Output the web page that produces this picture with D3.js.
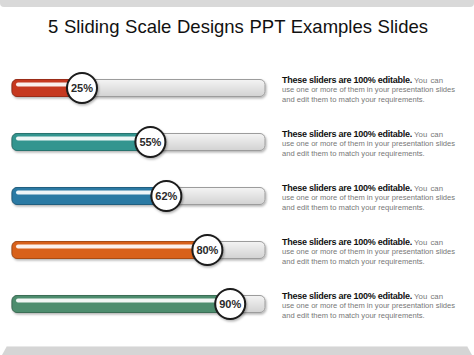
<!DOCTYPE html>
<html>
<head>
<meta charset="utf-8">
<script src="https://cdn.jsdelivr.net/npm/d3@7"></script>
<style>
  body { margin: 0; background: #fff; }
  svg { display: block; font-family: "Liberation Sans", Arial, sans-serif; }
</style>
</head>
<body>
<div id="chart"></div>
<script>
// slider values, one per row
const values = [25, 55, 62, 80, 90];
const colors = ["#c6381f", "#33958f", "#2b7aa4", "#d8611b", "#4d8d6e"];
const title = "5 Sliding Scale Designs PPT Examples Slides";
const headline = "These sliders are 100% editable.";
const tail = "You can";
const bodyLines = ["use one or more of them in your presentation slides",
                   "and edit them to match your requirements."];

const width = 474, height = 355;
const trackX0 = 12, trackX1 = 265, trackH = 17, knobR = 15;

const svg = d3.select("#chart").append("svg")
  .attr("width", width)
  .attr("height", height);

const defs = svg.append("defs");
let trackGrad = defs.append("linearGradient").attr("id", "trackGrad")
  .attr("x1", 0).attr("y1", 0).attr("x2", 0).attr("y2", 1);
trackGrad.append("stop").attr("offset", "0%").attr("stop-color", "#f4f4f4");
trackGrad.append("stop").attr("offset", "100%").attr("stop-color", "#d2d2d2");

let shadow = defs.append("filter").attr("id", "shadow")
  .attr("x", "-30%").attr("y", "-30%").attr("width", "160%").attr("height", "160%");
shadow.append("feDropShadow").attr("dx", 1).attr("dy", 1.5)
  .attr("stdDeviation", 1.2).attr("flood-color", "#000").attr("flood-opacity", 0.3);

// top and bottom bands
svg.append("path")
  .attr("d", "M0,0H474V3Q474,7 470,7H4Q0,7 0,3Z")
  .attr("fill", "#d9d9d9");
svg.append("path")
  .attr("d", "M2,355L7,346H467L472,355Z")
  .attr("fill", "#d5d5d5");
svg.append("line")
  .attr("x1", 7).attr("x2", 467).attr("y1", 346.5).attr("y2", 346.5)
  .attr("stroke", "#e8e8e8");

svg.append("text")
  .attr("x", 238).attr("y", 33)
  .attr("text-anchor", "middle")
  .attr("font-size", 18.5)
  .attr("word-spacing", 0.5)
  .attr("fill", "#111")
  .text(title);

let x = d3.scaleLinear().domain([0, 100]).range([25, 253]);
let y = d3.scalePoint().domain(d3.range(values.length)).range([88, 304]);

let row = svg.selectAll(".row")
  .data(values)
  .enter().append("g")
  .attr("class", "row")
  .attr("transform", (d, i) => "translate(0," + y(i) + ")");

// track
row.append("rect")
  .attr("x", trackX0).attr("y", -trackH / 2)
  .attr("width", trackX1 - trackX0).attr("height", trackH)
  .attr("rx", 5)
  .attr("fill", "url(#trackGrad)")
  .attr("stroke", "#9c9c9c")
  .attr("stroke-width", 1)
  .attr("filter", "url(#shadow)");

// filled part
row.append("rect")
  .attr("x", trackX0).attr("y", -trackH / 2)
  .attr("width", (d) => x(d) - trackX0)
  .attr("height", trackH)
  .attr("rx", 5)
  .attr("fill", (d, i) => colors[i])
  .attr("stroke", (d, i) => d3.color(colors[i]).darker(0.7))
  .attr("stroke-width", 1);

// highlight stripe
row.append("rect")
  .attr("x", trackX0 + 4).attr("y", -5.5)
  .attr("width", (d) => Math.max(0, x(d) - trackX0 - 8))
  .attr("height", 4)
  .attr("rx", 2)
  .attr("fill", "#fff")
  .attr("opacity", 0.92);

// knob
row.append("circle")
  .attr("cx", (d) => x(d))
  .attr("r", knobR)
  .attr("fill", "#fff")
  .attr("stroke", "#1a1a1a")
  .attr("stroke-width", 2)
  .attr("filter", "url(#shadow)");

row.append("text")
  .attr("x", (d) => x(d))
  .attr("dy", "0.36em")
  .attr("text-anchor", "middle")
  .attr("font-size", 11)
  .attr("font-weight", "bold")
  .attr("fill", "#2a2a2a")
  .text((d) => d + "%");

// description text
let head = row.append("text")
  .attr("x", 282).attr("y", -5);
head.append("tspan")
  .attr("font-size", 9)
  .attr("font-weight", "bold")
  .attr("letter-spacing", -0.25)
  .attr("fill", "#111")
  .text(headline);
head.append("tspan")
  .attr("dx", 2)
  .attr("font-size", 7.8)
  .attr("word-spacing", 1)
  .attr("fill", "#777")
  .text(tail);

bodyLines.forEach((line, k) => {
  row.append("text")
    .attr("x", 282).attr("y", 4 + k * 9.7)
    .attr("font-size", 7.6)
    .attr("fill", "#777")
    .text(line);
});
</script>
</body>
</html>
